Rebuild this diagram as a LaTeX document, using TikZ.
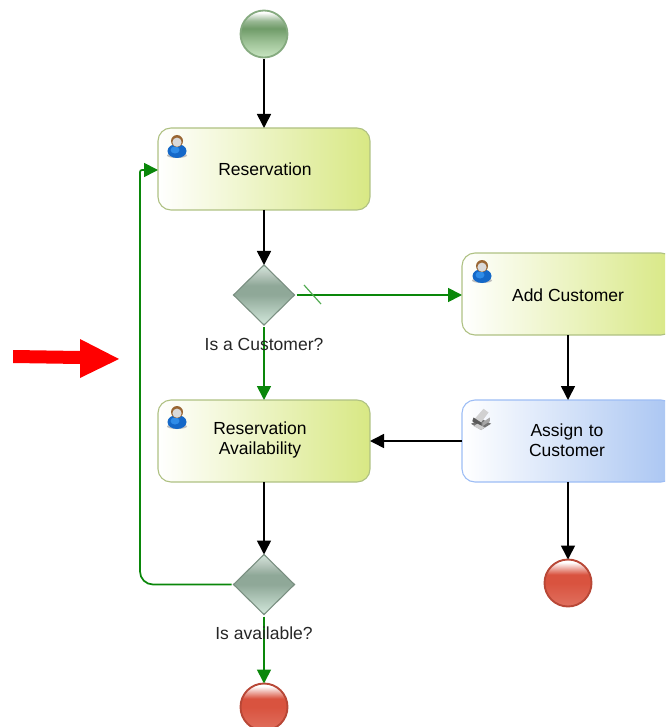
\documentclass[tikz,border=0pt]{standalone}
\usepackage{fontspec}
\setmainfont{Liberation Sans}
\usetikzlibrary{arrows.meta,shapes.geometric}
\definecolor{greenbot}{HTML}{C9E6C2}
\definecolor{greenmid}{HTML}{6F9B68}
\colorlet{greenlow}{greenmid!50!greenbot}
\definecolor{redbot}{HTML}{E0705F}
\definecolor{redmid}{HTML}{D9533F}
\definecolor{gatebot}{HTML}{D3E8DC}
\definecolor{gatemid}{HTML}{8FA898}
\colorlet{gatehigh}{gatemid!60!white}
\colorlet{greenhigh}{greenmid!70!white}
\colorlet{redhigh}{redmid!70!white}
\definecolor{flowgreen}{HTML}{0A870A}
\definecolor{taskedge}{HTML}{AFC183}
\definecolor{taskfill}{HTML}{D8E884}
\definecolor{blueedge}{HTML}{9DBDF5}
\definecolor{bluefill}{HTML}{A9C5F2}
\definecolor{personblue}{HTML}{1468C8}
\definecolor{personlight}{HTML}{2F8CE8}
\pgfdeclareverticalshading{greenball}{100bp}{
 color(0bp)=(greenbot); color(25bp)=(greenbot); color(42bp)=(greenlow);
 color(56bp)=(greenmid); color(64bp)=(greenhigh); color(73bp)=(white); color(75bp)=(white); color(100bp)=(white)}
\pgfdeclareverticalshading{redball}{100bp}{
 color(0bp)=(redbot); color(25bp)=(redbot); color(50bp)=(redmid); color(59bp)=(redmid);
 color(63bp)=(redhigh); color(72bp)=(white); color(75bp)=(white); color(100bp)=(white)}
\pgfdeclareverticalshading{gateshade}{100bp}{
 color(0bp)=(gatebot); color(25bp)=(gatebot); color(50bp)=(gatemid); color(58bp)=(gatemid);
 color(68bp)=(gatehigh); color(75bp)=(gatebot); color(100bp)=(gatebot)}
\tikzset{
 x=1pt,y=-1pt,
 every node/.style={font=\fontsize{17.5}{20}\selectfont,align=center,inner sep=0pt,outer sep=0pt},
 taskbox/.style={rectangle,rounded corners=13pt,minimum width=212pt,minimum height=82pt,line width=1.1pt,draw=taskedge,left color=white,right color=taskfill},
 servicebox/.style={taskbox,draw=blueedge,right color=bluefill},
 startev/.style={circle,minimum size=47pt,line width=1.8pt,draw=greenmid!85!white,shading=greenball},
 endev/.style={circle,minimum size=47pt,line width=1.9pt,draw=redmid!85!black,shading=redball},
 gate/.style={diamond,minimum width=61pt,minimum height=60pt,line width=1.1pt,draw=gatemid!85!black,shading=gateshade},
 flow/.style={line width=1.6pt,black,-{Triangle[length=14pt,width=14pt]}},
 gflow/.style={line width=1.7pt,flowgreen,-{Triangle[length=14pt,width=14pt]}},
 gslash/.style={line width=1.2pt,flowgreen!70!white},
 gatelabel/.style={text=black!85},
 person/.pic={
  \fill[black!25] (0,9.5) ellipse (10 and 2.5);
  \fill[personblue] (0,5) ellipse (9.5 and 7);
  \fill[personlight] (-2,4) ellipse (4.5 and 3.5);
  \fill[brown!80!black] (0,-5) circle (6);
  \fill[black!15] (0,-3.8) circle (4.6);
 },
 gearicon/.pic={
  \fill[black!55] (-8,3) -- (0,-1) -- (8,3) -- (0,8) -- cycle;
  \fill[black!18] (-5,-1) -- (2,-9) -- (6,-6) -- (0,2) -- cycle;
  \fill[black!65] (-6,-2) -- (0,2) -- (0,5) -- (-7,1) -- cycle;
  \fill[black!35] (1,2) -- (7,-2) -- (7,1) -- (1,5) -- cycle;
  \fill[black!20] (-6,5) -- (0,8) -- (3,6) -- (-3,3) -- cycle;
 },
}
\begin{document}
\begin{tikzpicture}
\useasboundingbox (0,0) rectangle (665,727);
\clip (0,0) rectangle (665,727);
% nodes
\node[startev] (start) at (264,34) {};
\node[taskbox] (res) at (264,169) {};
\node[gate] (g1) at (264,295) {};
\node[taskbox] (add) at (568,294) {};
\node[servicebox] (assign) at (568,441) {};
\node[taskbox] (avail) at (264,441) {};
\node[gate] (g2) at (264,584.5) {};
\node[endev] (end1) at (568,583) {};
\node[endev] (end2) at (264,707) {};
\coordinate (slashA) at (304,285);
\coordinate (slashB) at (321,304);
\coordinate (loopA) at (140,584.5);
\coordinate (loopB) at (140,170);
% connectors
\draw[flow,shorten <=2pt] (start) -- (res);
\draw[flow] (res) -- (g1);
\draw[flow] (add) -- (assign);
\draw[flow] (assign.west) -- (avail.east);
\draw[flow] (avail) -- (g2);
\draw[flow] (assign) -- (end1);
\draw[gflow,shorten <=2pt] (g1.east) -- (add.west |- g1.east);
\draw[gflow,shorten <=2pt] (g1) -- (avail);
\draw[gflow,shorten <=2pt] (g2) -- (end2);
\draw[gflow,shorten <=2pt,rounded corners=13pt] (g2.west) -- (loopA) [rounded corners=2pt] -- (loopB) -- (res.west |- loopB);
\draw[gslash] (slashA) -- (slashB);
% labels
\node at (265,169) {Reservation};
\node at (568,295) {Add Customer};
\node[text width=110pt] at (260,440) {Reservation\\Availability};
\node[text width=110pt] at (567,440) {Assign to\\Customer};
\node[gatelabel] (l1) at (264,344) {Is a Customer?};
\node[gatelabel] (l2) at (264,633) {Is available?};
% icons
\pic at (177,146) {person};
\pic at (482,271) {person};
\pic at (177,417) {person};
\pic[scale=1.25] at (481,420) {gearicon};
% red arrow
\fill[red] (13,350) -- (80,351) -- (80,339) -- (119,359) -- (80,378) -- (80,364) -- (13,363) -- cycle;
\end{tikzpicture}
\end{document}
